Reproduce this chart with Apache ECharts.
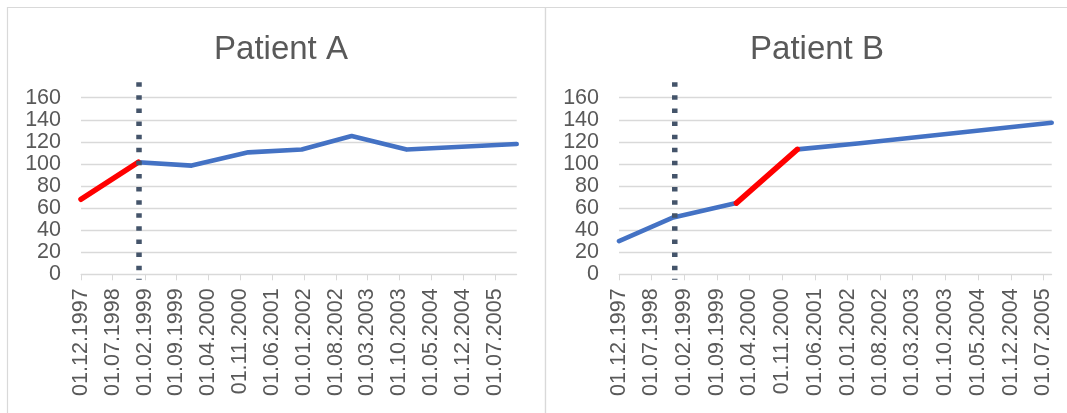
<!DOCTYPE html>
<html>
<head>
<meta charset="utf-8">
<script src="https://cdn.jsdelivr.net/npm/echarts@6/dist/echarts.min.js"></script>
<style>
html,body{margin:0;padding:0;background:#fff;}
#chart{width:1067px;height:413px;}
</style>
</head>
<body>
<div id="chart"></div>
<script>
// ---- data ----
const tickLabels = ['01.12.1997','01.07.1998','01.02.1999','01.09.1999','01.04.2000','01.11.2000','01.06.2001','01.01.2002','01.08.2002','01.03.2003','01.10.2003','01.05.2004','01.12.2004','01.07.2005'];
const yTicks = [0, 20, 40, 60, 80, 100, 120, 140, 160];
const titles = ['Patient A', 'Patient B'];

const patientADates  = ['01.12.1997','19.12.1998','11.12.1999','24.12.2000','16.12.2001','15.11.2002','18.11.2003','23.11.2005'];
const patientAValues = [68, 101.5, 98.5, 110.5, 113, 125.3, 113, 118];
const patientARed    = [0, 1];          // index range drawn in red
const patientAMarker = '24.12.1998';

const patientBDates  = ['01.12.1997','20.11.1998','06.01.2000','07.02.2001','23.03.2002','25.08.2005'];
const patientBValues = [30, 51.5, 64.5, 113.2, 118.7, 137.3];
const patientBRed    = [2, 3];
const patientBMarker = '30.11.1998';

const markerSpan = [174, -5];

// ---- helpers ----
function toTs(s){ const p = s.split('.'); return Date.UTC(+p[2], +p[1]-1, +p[0]); }
function fmt(ts){
  const d = new Date(ts);
  const dd = String(d.getUTCDate()).padStart(2,'0');
  const mm = String(d.getUTCMonth()+1).padStart(2,'0');
  return dd + '.' + mm + '.' + d.getUTCFullYear();
}
const tickTs = tickLabels.map(toTs);
const GREY = '#595959', LINE = '#d9d9d9', BLUE = '#4472C4', RED = '#FF0000', DASH = '#44546A';
const FONT = '"Liberation Sans", Arial, sans-serif';

const patients = [
  {dates: patientADates, values: patientAValues, red: patientARed, marker: patientAMarker},
  {dates: patientBDates, values: patientBValues, red: patientBRed, marker: patientBMarker}
];
const grids = [
  {left: 81, right: 550.3, top: 97.7, bottom: 138.7},
  {left: 619, right: 15.3, top: 97.7, bottom: 138.7}
];

const xAxes = [], yAxes = [], series = [];
patients.forEach(function(p, i){
  const pts = p.dates.map(function(d, k){ return [toTs(d), p.values[k]]; });
  xAxes.push({
    type: 'value', gridIndex: i,
    min: toTs(p.dates[0]), max: toTs(p.dates[p.dates.length-1]),
    splitLine: {show: false},
    axisLine: {show: true, lineStyle: {color: LINE, width: 1}},
    axisTick: {show: true, length: 6, lineStyle: {color: LINE, width: 1}, customValues: tickTs},
    axisLabel: {show: true, rotate: 90, margin: 14, color: GREY, fontSize: 21.5, fontFamily: FONT,
      customValues: tickTs, formatter: function(v){ return fmt(v); }}
  });
  yAxes.push({
    type: 'value', gridIndex: i, min: yTicks[0], max: yTicks[yTicks.length-1], interval: yTicks[1]-yTicks[0],
    axisLine: {show: false}, axisTick: {show: false},
    splitLine: {show: true, lineStyle: {color: LINE, width: 1.3}},
    axisLabel: {color: GREY, fontSize: 21.5, fontFamily: FONT, margin: 20}
  });
  const r0 = p.red[0], r1 = p.red[1];
  const segs = [];
  if (r0 > 0) segs.push({data: pts.slice(0, r0+1), color: BLUE, w: 4.6});
  if (r1 < pts.length-1) segs.push({data: pts.slice(r1), color: BLUE, w: 4.6});
  segs.push({data: pts.slice(r0, r1+1), color: RED, w: 5.5});
  segs.forEach(function(s, k){
    series.push({
      type: 'line', xAxisIndex: i, yAxisIndex: i, data: s.data,
      showSymbol: false, symbol: 'none', silent: true, animation: false, z: 2 + k,
      lineStyle: {color: s.color, width: s.w, cap: 'round', join: 'round'}
    });
  });
  series.push({
    type: 'line', xAxisIndex: i, yAxisIndex: i, clip: false,
    data: [[toTs(p.marker), markerSpan[0]], [toTs(p.marker), markerSpan[1]]],
    showSymbol: false, symbol: 'none', silent: true, animation: false, z: 10,
    lineStyle: {color: DASH, width: 5.5, type: [4.5, 8.6], cap: 'butt'}
  });
});

const chart = echarts.init(document.getElementById('chart'), null, {renderer: 'canvas'});
chart.setOption({
  animation: false,
  backgroundColor: '#fff',
  title: [
    {text: titles[0], left: 276, top: 28, textAlign: 'center',
     textStyle: {color: GREY, fontSize: 33, fontWeight: 'normal', fontFamily: FONT}},
    {text: titles[1], left: 812, top: 28, textAlign: 'center',
     textStyle: {color: GREY, fontSize: 33, fontWeight: 'normal', fontFamily: FONT}}
  ],
  graphic: [
    {type: 'rect', shape: {x: 7.5, y: 7.5, width: 538, height: 420}, style: {fill: 'none', stroke: LINE, lineWidth: 1.2}, silent: true},
    {type: 'rect', shape: {x: 545.5, y: 7.5, width: 540, height: 420}, style: {fill: 'none', stroke: LINE, lineWidth: 1.2}, silent: true}
  ],
  grid: grids,
  xAxis: xAxes,
  yAxis: yAxes,
  series: series
});
</script>
</body>
</html>
